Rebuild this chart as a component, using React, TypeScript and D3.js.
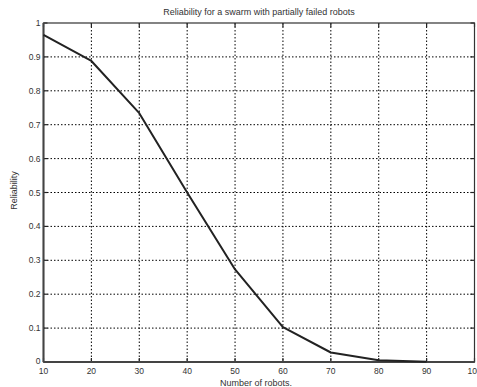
import React from "react";
import * as d3 from "d3";

const robots = [10, 20, 30, 40, 50, 60, 70, 80, 90];
const reliability = [0.965, 0.888, 0.734, 0.5, 0.273, 0.103, 0.028, 0.005, 0.001];
const xTicks = [10, 20, 30, 40, 50, 60, 70, 80, 90, 100];
const yTicks = [0, 0.1, 0.2, 0.3, 0.4, 0.5, 0.6, 0.7, 0.8, 0.9, 1];
const title = "Reliability for a swarm with partially failed robots";
const xLabel = "Number of robots.";
const yLabel = "Reliability";

export default function App() {
  const W = 477, H = 387;
  const L = 43.5, R = 474.5, T = 23, B = 362;
  const x = d3.scaleLinear().domain([10, 100]).range([L, R]);
  const y = d3.scaleLinear().domain([0, 1]).range([B, T]);
  const line = d3.line<number>().x((_, i) => x(robots[i])).y((d) => y(d));
  const font = "Liberation Sans, Arial, sans-serif";
  const tc = "#333";
  return (
    <svg width={W} height={H} style={{ position: "absolute", left: 0, top: 0, background: "#fff" }}>
      <rect x={0} y={0} width={W} height={H} fill="#fff" />
      {xTicks.slice(1, -1).map((t) => (
        <line key={"gx" + t} x1={x(t)} x2={x(t)} y1={T} y2={B} stroke="#000" strokeWidth={1} strokeDasharray="1.5,2" />
      ))}
      {yTicks.slice(1, -1).map((t) => (
        <line key={"gy" + t} x1={L} x2={R} y1={y(t)} y2={y(t)} stroke="#000" strokeWidth={1} strokeDasharray="1.5,2" />
      ))}
      {xTicks.map((t) => (
        <g key={"tx" + t}>
          <line x1={x(t)} x2={x(t)} y1={B} y2={B - 4} stroke="#222" strokeWidth={1.2} />
          <line x1={x(t)} x2={x(t)} y1={T} y2={T + 4} stroke="#222" strokeWidth={1.2} />
          <text x={x(t)} y={B + 11.5} textAnchor="middle" fontFamily={font} fontSize={8.5} fill={tc}>{t}</text>
        </g>
      ))}
      {yTicks.map((t) => (
        <g key={"ty" + t}>
          <line x1={L} x2={L + 4} y1={y(t)} y2={y(t)} stroke="#222" strokeWidth={1.2} />
          <line x1={R} x2={R - 4} y1={y(t)} y2={y(t)} stroke="#222" strokeWidth={1.2} />
          <text x={L - 3} y={y(t) + (t === 0 ? 1.5 : 3)} textAnchor="end" fontFamily={font} fontSize={8.5} fill={tc}>{t}</text>
        </g>
      ))}
      <rect x={L} y={T} width={R - L} height={B - T} fill="none" stroke="#333" strokeWidth={1.2} />
      <line x1={L} x2={R} y1={B} y2={B} stroke="#444" strokeWidth={2} />
      <line x1={L} x2={L} y1={T} y2={B} stroke="#444" strokeWidth={2} />
      <path d={line(reliability) || ""} fill="none" stroke="#222" strokeWidth={2} strokeLinejoin="round" />
      <text x={259} y={15} textAnchor="middle" fontFamily={font} fontSize={9} fill={tc}>{title}</text>
      <text x={256} y={385.5} textAnchor="middle" fontFamily={font} fontSize={9} fill={tc}>{xLabel}</text>
      <text transform={`translate(17,${(T + B) / 2 - 2}) rotate(-90)`} textAnchor="middle" fontFamily={font} fontSize={9} fill={tc}>{yLabel}</text>
    </svg>
  );
}
